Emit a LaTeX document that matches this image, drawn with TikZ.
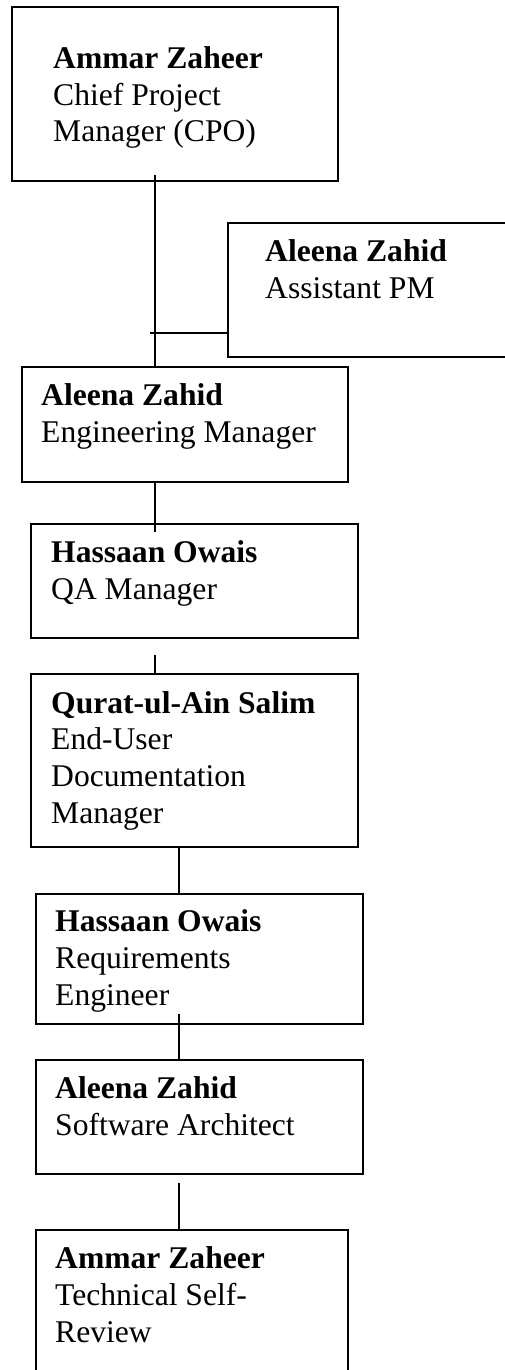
\documentclass[tikz,border=0pt]{standalone}
\usepackage{fontspec}
\setmainfont{Liberation Serif}
\usetikzlibrary{calc}
\begin{document}
\begin{tikzpicture}[x=1pt,y=-1pt,
  box/.style={draw=black,line width=1.7pt,rectangle,inner sep=0pt,anchor=north west},
  lbl/.style={inner sep=0pt,anchor=base west,align=left,
    font=\fontsize{31.6}{36.6}\selectfont},
  link/.style={draw=black,line width=1.7pt}]
\useasboundingbox (0,0) rectangle (505,1370);
% frames of the chart
\node[box,minimum width=326pt,minimum height=174pt] (cpo) at (11,6) {};
\node[box,minimum width=300pt,minimum height=134pt] (apm) at (227,222) {};
\node[box,minimum width=326pt,minimum height=115pt] (eng) at (21,366) {};
\node[box,minimum width=327pt,minimum height=114pt] (qa) at (30,523) {};
\node[box,minimum width=327pt,minimum height=173pt] (doc) at (30,673) {};
\node[box,minimum width=327pt,minimum height=130pt] (req) at (35,893) {};
\node[box,minimum width=327pt,minimum height=114pt] (arch) at (35,1059) {};
\node[box,minimum width=312pt,minimum height=180pt] (review) at (35,1229) {};
% names and roles (anchored at the baseline of the last line)
\node[lbl] (cpoT) at (53,142) {\textbf{Ammar Zaheer}\\Chief Project\\Manager (CPO)};
\node[lbl] (apmT) at (265,298) {\textbf{Aleena Zahid}\\Assistant PM};
\node[lbl] (engT) at (41,442) {\textbf{Aleena Zahid}\\Engineering Manager};
\node[lbl] (qaT) at (51,599) {\textbf{Hassaan Owais}\\QA Manager};
\node[lbl] (docT) at (51,823) {\textbf{Qurat-ul-Ain Salim}\\End-User\\Documentation\\Manager};
\node[lbl] (reqT) at (55,1005) {\textbf{Hassaan Owais}\\Requirements\\Engineer};
\node[lbl] (archT) at (55,1135) {\textbf{Aleena Zahid}\\Software Architect};
\node[lbl] (reviewT) at (55,1342) {\textbf{Ammar Zaheer}\\Technical Self-\\Review};
% vertical guides for the connectors
\coordinate (trunk) at (155,0);
\coordinate (spine) at (179,0);
\coordinate (tee) at (150,333);
% connectors
\draw[link] ($(cpo.south -| trunk)+(0,-7)$) -- (eng.north -| trunk);
\draw[link] (tee) -- (tee -| apm.west);
\draw[link] (eng.south -| trunk) -- ($(qa.north -| trunk)+(0,9)$);
\draw[link] ($(qa.south -| trunk)+(0,16)$) -- ($(doc.north -| trunk)+(0,2)$);
\draw[link] ($(doc.south -| spine)+(0,-2)$) -- (req.north -| spine);
\draw[link] ($(req.south -| spine)+(0,-11)$) -- (arch.north -| spine);
\draw[link] ($(arch.south -| spine)+(0,8)$) -- (review.north -| spine);
\end{tikzpicture}
\end{document}
